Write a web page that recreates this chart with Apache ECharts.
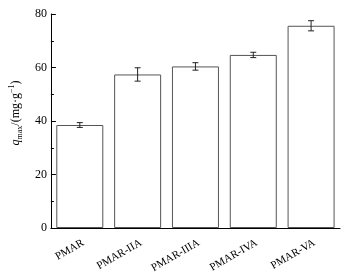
<!DOCTYPE html>
<html>
<head>
<meta charset="utf-8">
<script src="https://cdn.jsdelivr.net/npm/echarts@6/dist/echarts.min.js"></script>
<style>
  html, body { margin: 0; padding: 0; background: #fff; }
  #chart { width: 347px; height: 276px; }
</style>
</head>
<body>
<div id="chart"></div>
<script>
var categories = ["PMAR", "PMAR-IIA", "PMAR-IIIA", "PMAR-IVA", "PMAR-VA"];
var qmax = [38.5, 57.4, 60.4, 64.7, 75.6];
var errors = [0.9, 2.5, 1.4, 1.0, 1.9];
var yTicks = [0, 20, 40, 60, 80];

var serif = "'Liberation Serif', 'Times New Roman', serif";

var errData = [];
for (var i = 0; i < qmax.length; i++) {
  errData.push([i, qmax[i] - errors[i], qmax[i] + errors[i]]);
}

var chart = echarts.init(document.getElementById("chart"));
chart.setOption({
  animation: false,
  grid: { left: 49, right: 7, top: 14, bottom: 48 },
  xAxis: {
    type: "category",
    data: categories,
    axisLine: { lineStyle: { color: "#000", width: 1 } },
    axisTick: { show: false },
    axisLabel: {
      rotate: 30,
      margin: 16,
      padding: [0, -4, 0, 0],
      fontFamily: serif,
      fontSize: 11,
      color: "#000"
    }
  },
  yAxis: {
    type: "value",
    min: yTicks[0],
    max: yTicks[yTicks.length - 1],
    interval: 20,
    name: "{q|q}{sub|max}{n|/(mg·g}{sup|−1}{n|)}",
    nameLocation: "middle",
    nameGap: 23,
    nameTextStyle: {
      fontFamily: serif,
      color: "#000",
      padding: [0, 0, 0, 16],
      rich: {
        q: { fontFamily: serif, fontStyle: "italic", fontSize: 12, lineHeight: 16 },
        sub: { fontFamily: serif, fontSize: 8, lineHeight: 16, verticalAlign: "bottom" },
        n: { fontFamily: serif, fontSize: 12, lineHeight: 16 },
        sup: { fontFamily: serif, fontSize: 8, lineHeight: 16, verticalAlign: "top" }
      }
    },
    axisLine: { show: true, lineStyle: { color: "#000", width: 1 } },
    axisTick: { show: true, inside: true, length: 5, lineStyle: { color: "#000" } },
    minorTick: { show: true, splitNumber: 2, length: 3, lineStyle: { color: "#000" } },
    splitLine: { show: false },
    axisLabel: { fontFamily: serif, fontSize: 12, color: "#000", margin: 4 }
  },
  series: [
    {
      type: "bar",
      data: qmax,
      barWidth: 47,
      itemStyle: { color: "#fff", borderColor: "#555", borderWidth: 1 }
    },
    {
      type: "custom",
      data: errData,
      z: 10,
      renderItem: function (params, api) {
        var x = api.value(0);
        var lo = api.coord([x, api.value(1)]);
        var hi = api.coord([x, api.value(2)]);
        var w = 3;
        var st = { stroke: "#222", lineWidth: 1 };
        return {
          type: "group",
          children: [
            { type: "line", shape: { x1: hi[0], y1: hi[1], x2: lo[0], y2: lo[1] }, style: st },
            { type: "line", shape: { x1: hi[0] - w, y1: hi[1], x2: hi[0] + w, y2: hi[1] }, style: st },
            { type: "line", shape: { x1: lo[0] - w, y1: lo[1], x2: lo[0] + w, y2: lo[1] }, style: st }
          ]
        };
      }
    }
  ]
});
</script>
</body>
</html>
